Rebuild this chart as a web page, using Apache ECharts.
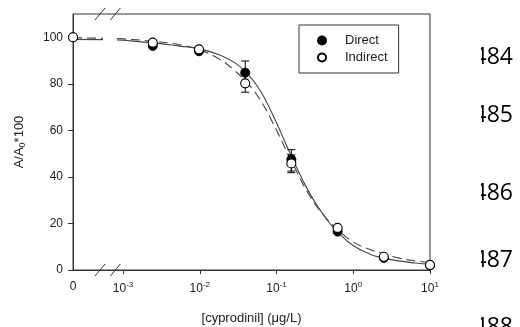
<!DOCTYPE html>
<html>
<head>
<meta charset="utf-8">
<script src="https://cdn.jsdelivr.net/npm/echarts@6/dist/echarts.min.js"></script>
<style>
html, body { margin: 0; padding: 0; background: #fff; }
#chart { width: 520px; height: 327px; }
</style>
</head>
<body>
<div id="chart"></div>
<script>
// 浓度 (μg/L)，0 画在轴的最左端
var conc = [0, 0.00244, 0.00977, 0.0391, 0.156, 0.625, 2.5, 10]
var direct = [100, 96.3, 94.0, 84.8, 47.5, 16.5, 5.2, 2.0]
var indirect = [100, 97.7, 94.8, 80.2, 45.8, 18.1, 5.7, 2.2]
// 误差棒
var errConc = [0.0391, 0.156]
var directLow = [79.8, 42.5]
var directHigh = [89.8, 51.7]
var indirectLow = [76.4, 41.8]
var indirectHigh = [84.0, 49.5]
// 拟合曲线 (x 为 log10 浓度)
var fitLeftX = [-3.652, -3.26]
var directLeftY = [99.1, 99.0]
var indirectLeftY = [99.8, 99.6]
var fitX = [-3.08, -3.0, -2.61, -2.26, -2.0, -1.74, -1.54, -1.40, -1.24, -1.06, -0.80, -0.56, -0.34, -0.20, 0, 0.22, 0.39, 0.61, 0.81, 1.0]
var directFitY = [98.8, 98.7, 97.6, 96.2, 95.0, 92.4, 89.0, 85.0, 78.5, 67.5, 48.5, 32.5, 21.5, 16.3, 10.5, 6.8, 5.2, 3.8, 3.0, 2.5]
var indirectFitY = [99.4, 99.3, 98.3, 96.8, 94.6, 90.5, 85.5, 81.0, 74.5, 64.0, 46.5, 31.5, 21.8, 17.3, 12.0, 8.8, 7.0, 5.0, 3.9, 3.2]
// 刻度
var xTicks = [-3.652, -3, -2, -1, 0, 1]
var yTicks = [0, 20, 40, 60, 80, 100]
var lineNumbers = ['484', '485', '486', '487', '488']

var X_MIN = -3.652
var FONT = '"Liberation Sans", Arial, sans-serif'

function logX (c) {
  return c === 0 ? X_MIN : Math.log10(c)
}
function pairs (xs, ys, fx) {
  return xs.map(function (x, i) { return [fx ? fx(x) : x, ys[i]] })
}
function errData (lo, hi) {
  return errConc.map(function (c, i) { return [logX(c), lo[i], hi[i]] })
}
function renderErr (params, api) {
  var x = api.value(0)
  var lo = api.coord([x, api.value(1)])
  var hi = api.coord([x, api.value(2)])
  var w = 4
  var st = { stroke: '#000', lineWidth: 1 }
  return {
    type: 'group',
    children: [
      { type: 'line', shape: { x1: lo[0], y1: lo[1], x2: hi[0], y2: hi[1] }, style: st },
      { type: 'line', shape: { x1: lo[0] - w, y1: lo[1], x2: lo[0] + w, y2: lo[1] }, style: st },
      { type: 'line', shape: { x1: hi[0] - w, y1: hi[1], x2: hi[0] + w, y2: hi[1] }, style: st }
    ]
  }
}

var myChart = echarts.init(document.getElementById('chart'))

var solid = { color: '#444', width: 1.1 }
var dashed = { color: '#444', width: 1.1, type: [9, 5] }

var option = {
  animation: false,
  textStyle: { fontFamily: FONT },
  grid: {
    left: 73, top: 14, right: 90, bottom: 57,
    containLabel: false,
    outerBoundsMode: 'none',
    show: true, borderColor: '#333', borderWidth: 1, backgroundColor: 'transparent'
  },
  legend: {
    data: ['Direct', 'Indirect'],
    orient: 'vertical',
    left: 299,
    top: 25,
    padding: [9, 11, 9, 18],
    itemGap: 4,
    itemWidth: 36,
    itemHeight: 8,
    borderColor: '#333',
    borderWidth: 1,
    textStyle: { fontFamily: FONT, fontSize: 13, color: '#222' }
  },
  xAxis: {
    type: 'value',
    min: X_MIN,
    max: 1,
    splitLine: { show: false },
    axisLine: { onZero: false, lineStyle: { color: '#333', width: 1 } },
    axisTick: { customValues: [-3, -2, -1, 0, 1], length: 4, lineStyle: { color: '#333' } },
    axisLabel: {
      customValues: xTicks,
      margin: 11,
      color: '#222',
      fontSize: 12,
      fontFamily: FONT,
      formatter: function (v) {
        if (v < -3.5) return '{b|0}'
        return '{b|10}{s|' + Math.round(v) + '}'
      },
      rich: {
        b: { fontSize: 12, fontFamily: FONT, color: '#222' },
        s: { fontSize: 8, fontFamily: FONT, color: '#222', padding: [0, 0, 8, 0] }
      }
    },
    name: '[cyprodinil] (μg/L)',
    nameLocation: 'middle',
    nameGap: 42,
    nameTextStyle: { fontSize: 13, color: '#222', fontFamily: FONT }
  },
  yAxis: {
    type: 'value',
    min: 0,
    max: 110,
    splitLine: { show: false },
    axisLine: { show: true, onZero: false, lineStyle: { color: '#333', width: 1 } },
    axisTick: { show: true, customValues: yTicks, length: 5, lineStyle: { color: '#333' } },
    axisLabel: { customValues: yTicks, margin: 10, color: '#222', fontSize: 12, fontFamily: FONT },
    name: '{a|A/A}{b|0}{a|*100}',
    nameLocation: 'middle',
    nameGap: 46,
    nameTextStyle: {
      rich: {
        a: { fontSize: 13, color: '#222', fontFamily: FONT },
        b: { fontSize: 9, color: '#222', fontFamily: FONT, padding: [7, 0, 0, 0] }
      }
    }
  },
  series: [
    { name: 'fitD1', type: 'line', data: pairs(fitLeftX, directLeftY), showSymbol: false, lineStyle: solid, z: 2 },
    { name: 'fitI1', type: 'line', data: pairs(fitLeftX, indirectLeftY), showSymbol: false, lineStyle: dashed, z: 2 },
    { name: 'fitD2', type: 'line', data: pairs(fitX, directFitY), showSymbol: false, smooth: 0.5, lineStyle: solid, z: 2 },
    { name: 'fitI2', type: 'line', data: pairs(fitX, indirectFitY), showSymbol: false, smooth: 0.5, lineStyle: dashed, z: 2 },
    { name: 'errD', type: 'custom', renderItem: renderErr, data: errData(directLow, directHigh), encode: { x: 0, y: [1, 2] }, z: 3 },
    { name: 'errI', type: 'custom', renderItem: renderErr, data: errData(indirectLow, indirectHigh), encode: { x: 0, y: [1, 2] }, z: 3 },
    {
      name: 'Direct',
      type: 'scatter',
      data: pairs(conc, direct, logX),
      symbol: 'circle',
      symbolSize: 9,
      clip: false,
      itemStyle: { color: '#000', borderColor: '#000', borderWidth: 1, opacity: 1 },
      z: 4
    },
    {
      name: 'Indirect',
      type: 'scatter',
      data: pairs(conc, indirect, logX),
      symbol: 'circle',
      symbolSize: 9,
      clip: false,
      itemStyle: { color: '#fff', borderColor: '#000', borderWidth: 1.1, opacity: 1 },
      z: 5
    }
  ]
}
myChart.setOption(option)

// 轴断裂标记 + 右侧行号
var graphics = []
var breakAt = [-3.30, -3.10]
breakAt.forEach(function (b) {
  [0, 110].forEach(function (yv) {
    var p = myChart.convertToPixel({ gridIndex: 0 }, [b, yv])
    graphics.push({
      type: 'line',
      shape: { x1: p[0] - 5, y1: p[1] + 6, x2: p[0] + 5, y2: p[1] - 6 },
      style: { stroke: '#333', lineWidth: 1 },
      z: 10
    })
  })
})
var numY = [57, 115, 193, 260, 327]
lineNumbers.forEach(function (t, i) {
  graphics.push({
    type: 'text',
    x: 513,
    y: numY[i],
    style: { text: t, font: '23px "Open Sans", sans-serif', fill: '#000', textAlign: 'right', textVerticalAlign: 'middle' },
    z: 20
  })
})
graphics.push({ type: 'rect', shape: { x: 440, y: 0, width: 41, height: 327 }, style: { fill: '#fff' }, z: 21 })
myChart.setOption({ graphic: graphics })
</script>
</body>
</html>
